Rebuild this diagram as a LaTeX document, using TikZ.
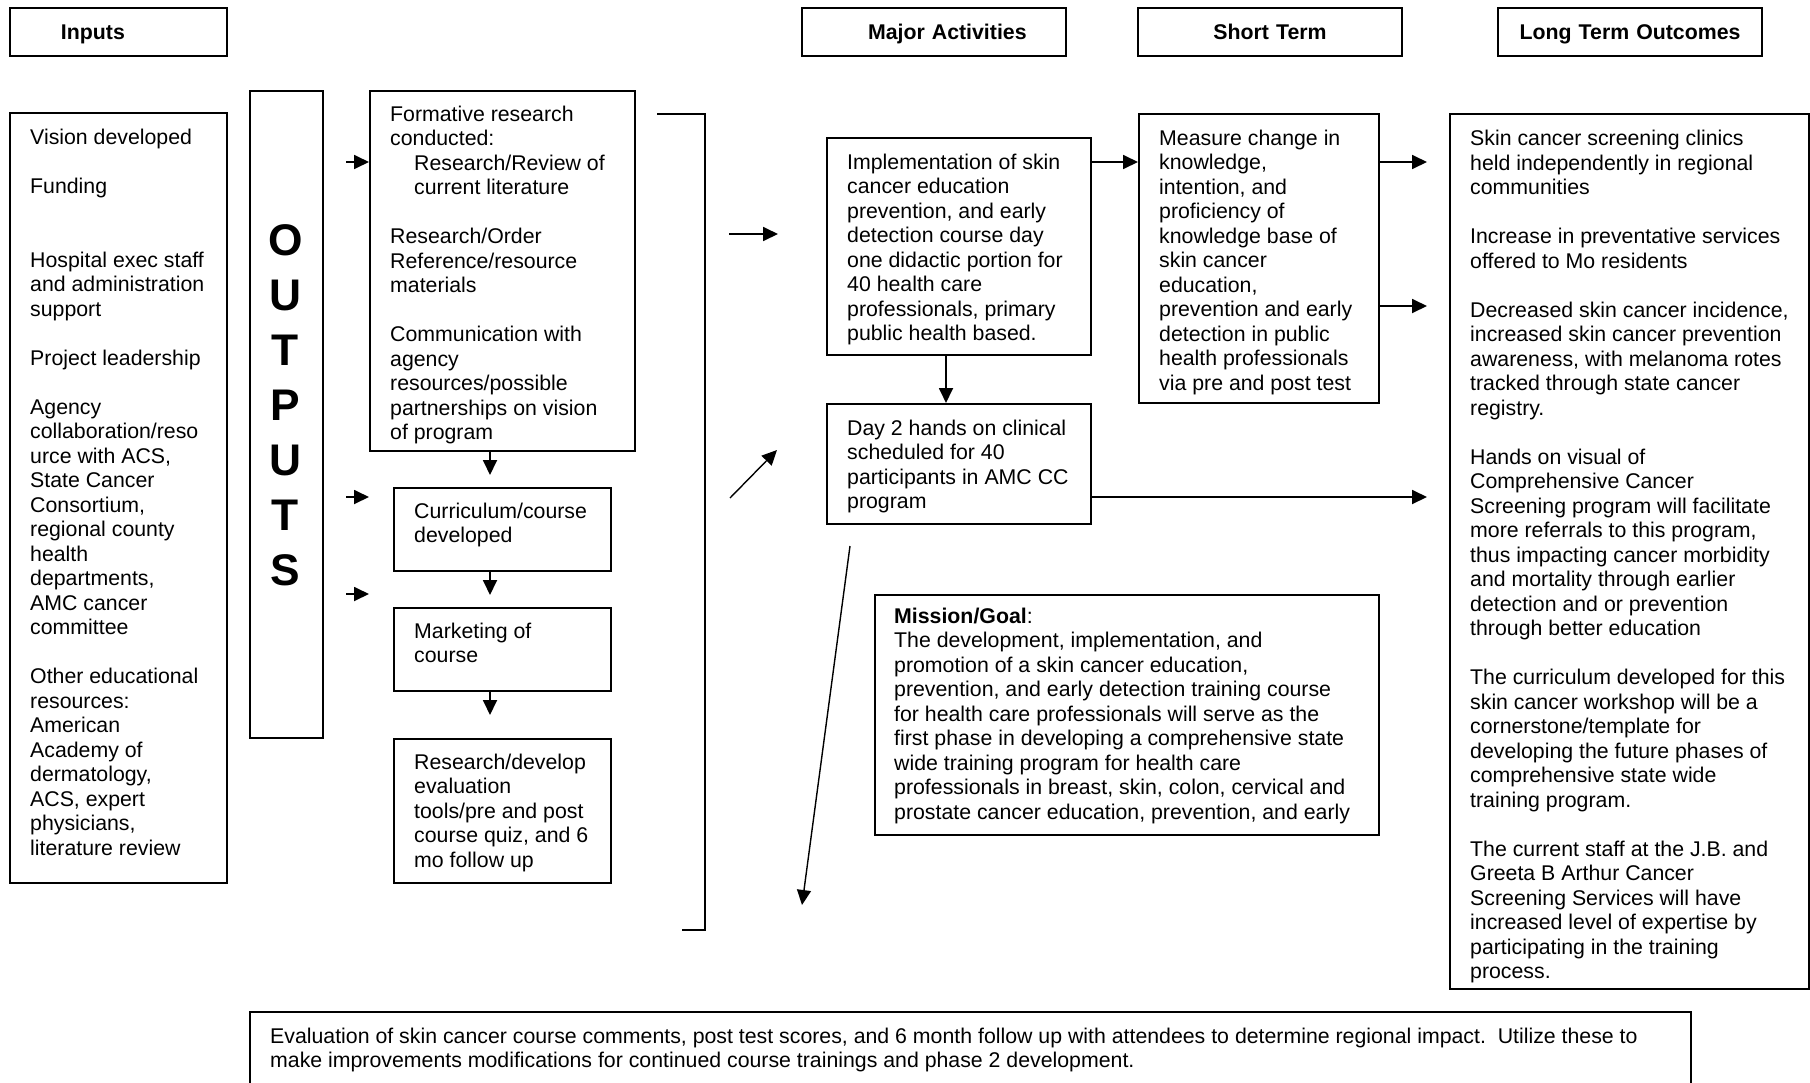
\documentclass[tikz,border=0pt]{standalone}
\usepackage{fontspec}
\setmainfont{Liberation Sans}
\usetikzlibrary{arrows.meta}

\begin{document}
\begin{tikzpicture}[x=1pt, y=-1pt,
    frame/.style={draw, line width=2pt, anchor=north west, inner sep=0pt},
    txt/.style={anchor=north west, align=left, inner sep=0pt, font=\fontsize{21.3}{24.5}\selectfont},
    head/.style={frame, minimum height=48pt, text height=15.3pt, text depth=0pt, font=\bfseries\fontsize{21.3}{24.5}\selectfont},
    arr/.style={line width=1.8pt, -{Triangle[length=15pt,width=14pt]}}]
        \useasboundingbox (0,0) rectangle (1810,1082);
        \clip (0,0) rectangle (1810,1082);

        % Column headings
        \node[head, text width=217pt, align=left] (hin) at (9,7) {\hspace*{51pt}Inputs};
        \node[head, text width=264pt, align=left] (hact) at (801,7) {\hspace*{66pt}Major Activities};
        \node[head, text width=264pt, align=center] (hshort) at (1137,7) {Short Term};
        \node[head, text width=264pt, align=center] (hlong) at (1497,7) {Long Term Outcomes};

        % Inputs
        \node[frame, minimum width=217pt, minimum height=770pt] (inputs) at (9,112) {};
        \node[txt] (inputs-t) at ([shift={(21,15.5)}]inputs.north west) {\strut Vision developed\\[24.5pt]
            Funding\\[49pt]
            Hospital exec staff\\ and administration\\ support\\[24.5pt]
            Project leadership\\[24.5pt]
            Agency\\ collaboration/reso\\ urce with ACS,\\ State Cancer\\ Consortium,\\ regional county\\ health\\ departments,\\ AMC cancer\\ committee\\[24.5pt]
            Other educational\\ resources:\\ American\\ Academy of\\ dermatology,\\ ACS, expert\\ physicians,\\ literature review};

        % OUTPUTS bar
        \node[frame, minimum width=73pt, minimum height=647pt] (outbox) at (249,90) {};
        \node[font=\bfseries\fontsize{44.3}{55}\selectfont, align=center, inner sep=0pt] (outword) at (285.5,405) {O\\U\\T\\P\\U\\T\\S};

        % Outputs column
        \node[frame, minimum width=265pt, minimum height=360pt] (formative) at (369,90) {};
        \node[txt] (formative-t) at ([shift={(21,14)}]formative.north west) {\strut Formative research\\ conducted:\\
            \hspace*{24pt}Research/Review of\\ \hspace*{24pt}current literature\\[24.5pt]
            Research/Order\\ Reference/resource\\ materials\\[24.5pt]
            Communication with\\ agency\\ resources/possible\\ partnerships on vision\\ of program};

        \node[frame, minimum width=217pt, minimum height=83pt] (curriculum) at (393,487) {};
        \node[txt] (curriculum-t) at ([shift={(21,14)}]curriculum.north west) {\strut Curriculum/course\\ developed};

        \node[frame, minimum width=217pt, minimum height=83pt] (marketing) at (393,607) {};
        \node[txt] (marketing-t) at ([shift={(21,14)}]marketing.north west) {\strut Marketing of\\ course};

        \node[frame, minimum width=217pt, minimum height=144pt] (evaltools) at (393,738) {};
        \node[txt] (evaltools-t) at ([shift={(21,14)}]evaltools.north west) {\strut Research/develop\\ evaluation\\ tools/pre and post\\ course quiz, and 6\\ mo follow up};

        % Arrows into the outputs column
        \coordinate (inA) at (346,162);
        \coordinate (inB) at (346,497);
        \coordinate (inC) at (346,594);
        \draw[arr] (inA) -- (inA -| formative.west);
        \draw[arr] (inB) -- (inB -| formative.west);
        \draw[arr] (inC) -- (inC -| formative.west);

        % Down the outputs column
        \coordinate (spine) at (490,0);
        \draw[arr] (spine |- formative.south) -- ++(0,23);
        \draw[arr] (spine |- curriculum.south) -- ++(0,23);
        \draw[arr] (spine |- marketing.south) -- ++(0,23);

        % Bracket
        \draw[line width=2pt] (657,114) -| (705,930) -- (682,930);

        % Major activities
        \node[frame, minimum width=264pt, minimum height=217pt] (implement) at (826,137) {};
        \node[txt] (implement-t) at ([shift={(21,15)}]implement.north west) {\strut Implementation of skin\\ cancer education\\ prevention, and early\\ detection course day\\ one didactic portion for\\ 40 health care\\ professionals, primary\\ public health based.};

        \node[frame, minimum width=264pt, minimum height=120pt] (daytwo) at (826,403) {};
        \node[txt] (daytwo-t) at ([shift={(21,15)}]daytwo.north west) {\strut Day 2 hands on clinical\\ scheduled for 40\\ participants in AMC CC\\ program};

        \coordinate (inImp) at (729,234);
        \coordinate (inImpEnd) at (778,234);
        \draw[arr] (inImp) -- (inImpEnd);
        \coordinate (upA) at (730,498);
        \coordinate (upB) at (777,450);
        \draw[arr, line width=1.4pt] (upA) -- (upB);
        \coordinate (downA) at (850,546);
        \coordinate (downB) at (802,905);
        \draw[arr, line width=1.4pt] (downA) -- (downB);

        \coordinate (col) at (946,0);
        \draw[arr] (col |- implement.south) -- (col |- daytwo.north);

        % Mission
        \node[frame, minimum width=504pt, minimum height=240pt] (mission) at (874,594) {};
        \node[txt] (mission-t) at ([shift={(20,12)}]mission.north west) {\strut\textbf{Mission/Goal}:\\ The development, implementation, and\\ promotion of a skin cancer education,\\ prevention, and early detection training course\\ for health care professionals will serve as the\\ first phase in developing a comprehensive state\\ wide training program for health care\\ professionals in breast, skin, colon, cervical and\\ prostate cancer education, prevention, and early};

        % Short term
        \node[frame, minimum width=240pt, minimum height=289pt] (short) at (1138,113) {};
        \node[txt] (short-t) at ([shift={(21,15)}]short.north west) {\strut Measure change in\\ knowledge,\\ intention, and\\ proficiency of\\ knowledge base of\\ skin cancer\\ education,\\ prevention and early\\ detection in public\\ health professionals\\ via pre and post test};

        \coordinate (rowA) at (0,162);
        \coordinate (rowB) at (0,306);
        \coordinate (rowC) at (0,497);
        \coordinate (gate) at (1427,0);
        \draw[arr] (implement.east |- rowA) -- (short.west |- rowA);
        \draw[arr] (short.east |- rowA) -- (gate |- rowA);
        \draw[arr] (short.east |- rowB) -- (gate |- rowB);
        \draw[arr] (daytwo.east |- rowC) -- (gate |- rowC);

        % Long term outcomes
        \node[frame, minimum width=359pt, minimum height=875pt] (long) at (1449,113) {};
        \node[txt] (long-t) at ([shift={(21,15.5)}]long.north west) {\strut Skin cancer screening clinics\\ held independently in regional\\ communities\\[24.5pt]
            Increase in preventative services\\ offered to Mo residents\\[24.5pt]
            Decreased skin cancer incidence,\\ increased skin cancer prevention\\ awareness, with melanoma rotes\\ tracked through state cancer\\ registry.\\[24.5pt]
            Hands on visual of\\ Comprehensive Cancer\\ Screening program will facilitate\\ more referrals to this program,\\ thus impacting cancer morbidity\\ and mortality through earlier\\ detection and or prevention\\ through better education\\[24.5pt]
            The curriculum developed for this\\ skin cancer workshop will be a\\ cornerstone/template for\\ developing the future phases of\\ comprehensive state wide\\ training program.\\[24.5pt]
            The current staff at the J.B. and\\ Greeta B Arthur Cancer\\ Screening Services will have\\ increased level of expertise by\\ participating in the training\\ process.};

        % Evaluation strip
        \node[frame, minimum width=1441pt, minimum height=120pt] (evaluation) at (249,1011) {};
        \node[txt] (evaluation-t) at ([shift={(21,15)}]evaluation.north west) {\strut Evaluation of skin cancer course comments, post test scores, and 6 month follow up with attendees to determine regional impact.\ \ Utilize these to\\ make improvements modifications for continued course trainings and phase 2 development.};
    \end{tikzpicture}
\end{document}
